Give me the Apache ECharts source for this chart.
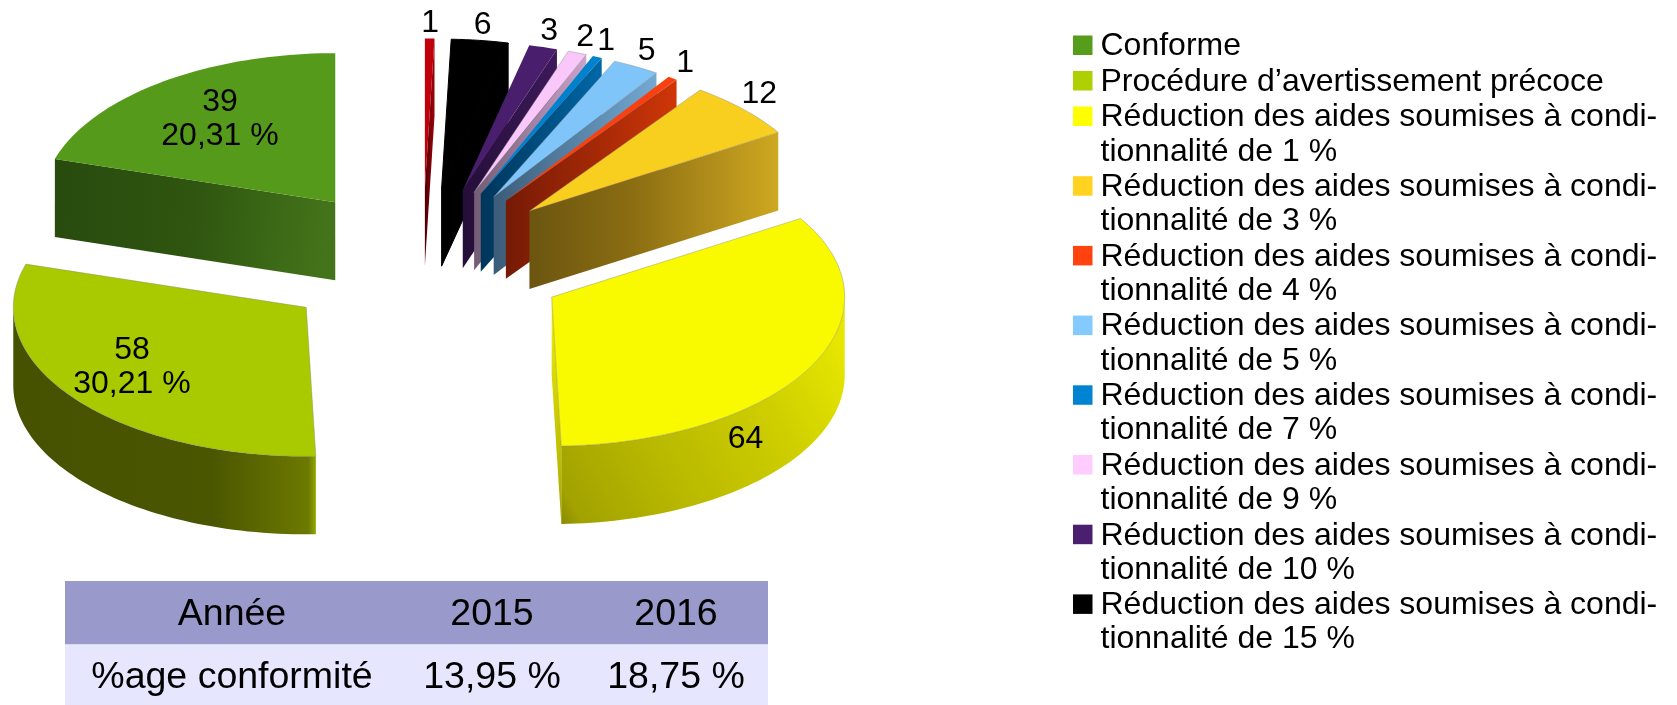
<!DOCTYPE html>
<html><head><meta charset="utf-8">
<style>html,body{margin:0;padding:0;background:#fff}#c{width:1677px;height:705px}</style>
<script src="https://cdn.jsdelivr.net/npm/echarts@6/dist/echarts.min.js"></script>
</head><body><div id="c"></div>
<script>
// ---- data ----
const sliceNames = ['Conforme','Procédure d’avertissement précoce','Réduction 1 %','Réduction 3 %','Réduction 4 %','Réduction 5 %','Réduction 7 %','Réduction 9 %','Réduction 10 %','Réduction 15 %','Réduction 20 %'];
const sliceValues = [39,58,64,12,1,5,1,2,3,6,1];
const legendLabels = ['Conforme','Procédure d’avertissement précoce',
 'Réduction des aides soumises à condi-\ntionnalité de 1 %','Réduction des aides soumises à condi-\ntionnalité de 3 %',
 'Réduction des aides soumises à condi-\ntionnalité de 4 %','Réduction des aides soumises à condi-\ntionnalité de 5 %',
 'Réduction des aides soumises à condi-\ntionnalité de 7 %','Réduction des aides soumises à condi-\ntionnalité de 9 %',
 'Réduction des aides soumises à condi-\ntionnalité de 10 %','Réduction des aides soumises à condi-\ntionnalité de 15 %'];
const tableHeader = ['Année','2015','2016'];
const tableRow = ['%age conformité','13,95 %','18,75 %'];

// ---- style ----
const legendColors = ['#579d1c','#aecf00','#ffff00','#ffd320','#ff420e','#83caff','#0084d1','#ffccff','#4b1f6f','#000000'];
const topColors = ['#559a1b','#aaca00','#f9f900','#f8ce1f','#f94010','#80c5f9','#0081cc','#f9c7f9','#491e6c','#000000','#c0000b'];
const outlined = [false,true,true,true,false,true,false,true,false,false,false];
const wallStops = [
 [[0,'#284b0e'],[.5,'#2f5510'],[.75,'#396615'],[1,'#44741a']],
 [[0,'#465200'],[.65,'#4a5600'],[.92,'#667300'],[.975,'#6c7900'],[1,'#93a800']],
 [[0,'#8a8a00'],[.06,'#a2a200'],[.35,'#b8b800'],[.7,'#cdcd00'],[1,'#e6e600']],
 [[0,'#6b5510'],[.4,'#8a6c12'],[.8,'#b8941c'],[1,'#cda821']],
 [[0,'#751a05'],[1,'#cf3608']],
 [[0,'#3c5c78'],[1,'#74a9d3']],
 [[0,'#00355a'],[1,'#0068a6']],
 [[0,'#745c74'],[1,'#cba3cb']],
 [[0,'#240f38'],[1,'#3d1959']],
 [[0,'#000'],[1,'#000']],
 [[0,'#4a0004'],[1,'#a0000a']]
];
const drawOrder = [0,10,9,8,7,6,5,4,3,1,2];
const insideLabel = {0:{t:.66,dy:-4,pct:true},1:{t:.75,dy:-8,pct:true},2:{t:.75,dy:89,pct:false}};
const CX=422.5, CY=262, RX=293, RY=149, DEPTH=78, EXPLODE=.5;
const LABEL_FONT='32px "Liberation Sans"';
const TABLE_FONT='37.5px "Liberation Sans"';

// ---- geometry derived from the values ----
const total = sliceValues.reduce((a,b)=>a+b,0);
let acc=0;
const angles = sliceValues.map(v=>{const a0=90+acc/total*360; acc+=v; return [a0,90+acc/total*360];});
const rad=d=>d*Math.PI/180;
const pt=(ox,oy,deg,k=1)=>[ox+k*RX*Math.cos(rad(deg)),oy-k*RY*Math.sin(rad(deg))];
function apex(i){const m=(angles[i][0]+angles[i][1])/2;return pt(CX,CY,m,EXPLODE);}
function arc(ax,ay,d0,d1,dz=0){const n=Math.max(2,Math.ceil(Math.abs(d1-d0)/1.5));const out=[];
 for(let k=0;k<=n;k++){const p=pt(ax,ay,d0+(d1-d0)*k/n);out.push([p[0],p[1]+dz]);}return out;}
const grad=(stops,x,y,x2,y2)=>({type:'linear',x,y,x2,y2,colorStops:stops.map(s=>({offset:s[0],color:s[1]}))});

function renderSlice(params,api){
 const i=api.value(0),[a0,a1]=angles[i],[ax,ay]=apex(i),kids=[];
 const stops=wallStops[i];
 // radial wall at start angle
 if(Math.cos(rad(a0))>0.0001){
  const o=pt(ax,ay,a0);
  const fill=i===2?grad([[0,'#f2f200'],[1,'#a8a800']],0,0,0,1):grad(stops,0,0,1,0);
  const style={fill};
  if(i===9){style.stroke='#000';style.lineWidth=1;}
  kids.push({type:'polygon',shape:{points:[[ax,ay],o,[o[0],o[1]+DEPTH],[ax,ay+DEPTH]]},style});
 }
 // radial wall at end angle
 if(Math.cos(rad(a1))<-0.0001){
  const o=pt(ax,ay,a1);
  kids.push({type:'polygon',shape:{points:[[ax,ay],o,[o[0],o[1]+DEPTH],[ax,ay+DEPTH]]},
   style:{fill:grad(stops,0,0,1,.2)}});
 }
 // outer curved wall, lower half only
 const lo=Math.max(a0,180),hi=Math.min(a1,360);
 if(hi>lo){
  const top=arc(ax,ay,lo,hi),bot=arc(ax,ay,hi,lo,DEPTH);
  const fill=i===2?grad(stops,0,1,1,.25):grad(stops,0,0,1,0);
  kids.push({type:'polygon',shape:{points:top.concat(bot)},style:{fill}});
 }
 // top face
 const style={fill:topColors[i]};
 if(outlined[i]){style.stroke='rgba(125,125,125,0.55)';style.lineWidth=.7;style.lineJoin='round';}
 if(i===9){style.stroke='#000';style.lineWidth=1;}
 kids.push({type:'polygon',shape:{points:[[ax,ay]].concat(arc(ax,ay,a0,a1))},style});
 return {type:'group',children:kids};
}
function renderLabel(params,api){
 const i=api.value(0),[ax,ay]=apex(i),m=(angles[i][0]+angles[i][1])/2,v=sliceValues[i];
 let x,y,text=String(v);
 const ins=insideLabel[i];
 if(ins){
  const o=pt(0,0,m);x=ax+ins.t*o[0];y=ay+ins.t*o[1]+ins.dy;
  if(ins.pct) text+='\n'+(v/total*100).toFixed(2).replace('.',',')+' %';
 }else{
  const o=pt(ax,ay,m);x=o[0]+22*Math.cos(rad(m));y=o[1]-15.5;
 }
 return {type:'text',style:{text,x,y,fill:'#000',font:LABEL_FONT,align:'center',verticalAlign:'middle',lineHeight:34}};
}

// ---- legend + table as graphic elements ----
const gfx=[];
let ly=46.5;
legendLabels.forEach((t,i)=>{
 gfx.push({type:'rect',shape:{x:1073,y:ly-11,width:19.5,height:19.5},style:{fill:legendColors[i]}});
 gfx.push({type:'text',style:{text:t,x:1100.5,y:ly-17.1,fill:'#000',font:LABEL_FONT,align:'left',verticalAlign:'top',lineHeight:34.2}});
 ly+=t.includes('\n')?34.2+35.5:35.5;
});
gfx.push({type:'rect',shape:{x:65,y:581,width:703,height:63.5},style:{fill:'#9999cc'}});
gfx.push({type:'rect',shape:{x:65,y:644.5,width:703,height:60.5},style:{fill:'#e6e6ff'}});
const colX=[232,492,676];
tableHeader.forEach((t,i)=>gfx.push({type:'text',style:{text:t,x:colX[i],y:614.5,fill:'#000',font:TABLE_FONT,align:'center',verticalAlign:'middle'}}));
tableRow.forEach((t,i)=>gfx.push({type:'text',style:{text:t,x:colX[i],y:678,fill:'#000',font:TABLE_FONT,align:'center',verticalAlign:'middle'}}));

const chart=echarts.init(document.getElementById('c'),null,{renderer:'canvas'});
chart.setOption({
 animation:false,backgroundColor:'#fff',
 graphic:{elements:gfx},
 series:[
  {type:'custom',name:'Conformité',coordinateSystem:'none',renderItem:renderSlice,silent:true,z:2,
   data:drawOrder.map(i=>({name:sliceNames[i],value:[i,sliceValues[i]]}))},
  {type:'custom',name:'Étiquettes',coordinateSystem:'none',renderItem:renderLabel,silent:true,z:3,
   data:sliceValues.map((v,i)=>({name:sliceNames[i],value:[i,v]}))}
 ]
});
</script></body></html>
